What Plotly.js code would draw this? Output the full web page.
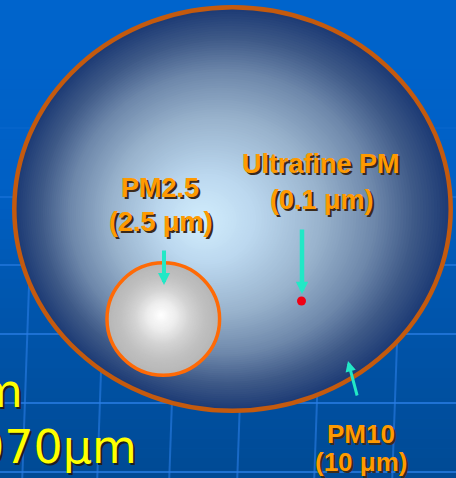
<!DOCTYPE html>
<html><head><meta charset="utf-8">
<script src="https://cdn.plot.ly/plotly-3.0.1.min.js"></script>
<style>html,body{margin:0;padding:0;background:#0060C6;overflow:hidden}</style>
</head><body><div id="chart" style="width:456px;height:478px"></div>
<script>
// particle classes shown in the diagram
const particleNames = ['PM10', 'PM2.5', 'Ultrafine PM'];
const particleSizes = ['10 μm', '2.5 μm', '0.1 μm'];
// comparison text at the left edge (cropped in the original slide)
const sideLines = ['m', '070μm'];

// ---------- layout / style (not data) ----------
const W = 456, H = 478;
const big = {cx: 232.5, cy: 209, rx: 218.2, ry: 201.8, fx: 200, fy: 222, line: '#C45A0E', lw: 4.5};
const small = {cx: 163.3, cy: 319, r: 56.3, fx: 161, fy: 315, line: '#FF6A06', lw: 3.5};
const bigStops = [[0,'#D2EEFD'],[0.22,'#BCD8EF'],[0.49,'#98B2CC'],[0.7,'#6E88AB'],[0.86,'#3E5987'],[1,'#1C3A74']];
const smallStops = [[0,'#FFFFFF'],[0.25,'#EDEDED'],[0.5,'#D2D2D2'],[0.75,'#C0C0C0'],[1,'#B6B6B6']];
const bgStops = [[0,'#0064CC'],[0.38,'#0060C5'],[0.63,'#0056AE'],[1,'#004A94']];

function hex2rgb(h){return [parseInt(h.slice(1,3),16),parseInt(h.slice(3,5),16),parseInt(h.slice(5,7),16)];}
function interp(stops, t){
  for (let i=1;i<stops.length;i++){
    if (t <= stops[i][0]){
      const a=stops[i-1], b=stops[i];
      const f=(t-a[0])/(b[0]-a[0]);
      const ca=hex2rgb(a[1]), cb=hex2rgb(b[1]);
      return 'rgb('+ca.map((v,k)=>Math.round(v+(cb[k]-v)*f)).join(',')+')';
    }
  }
  return stops[stops.length-1][1];
}

const shapes = [];
// background vertical gradient
const NB = 48;
for (let i=0;i<NB;i++){
  const y0 = H*i/NB, y1 = H*(i+1)/NB + 0.6;
  shapes.push({type:'rect', layer:'below', xref:'x', yref:'y', x0:-2, x1:W+2, y0:y0, y1:y1,
    fillcolor: interp(bgStops,(i+0.5)/NB), line:{width:0}});
}
// faint perspective grid
const gridY = [128, 197, 265, 334, 403, 472];
const gridYOp = [0.12, 0.4, 0.6, 0.7, 0.75, 0.75];
gridY.forEach((y,i)=>shapes.push({type:'line', layer:'below', x0:-2, x1:W+2, y0:y, y1:y,
  line:{color:'#2A7EE6', width:2}, opacity:gridYOp[i]}));
const gridX = [25, 100, 172, 240, 317, 395];
gridX.forEach(x=>shapes.push({type:'line', layer:'below', x0:x-0.035*(180-400), x1:x-0.035*(H-400), y0:180, y1:H,
  line:{color:'#2A7EE6', width:2}, opacity:0.6}));

// big ellipse with off-centre radial gradient
const NL = 90;
for (let i=NL;i>=1;i--){
  const t = i/NL;
  const cx = big.fx + t*(big.cx-big.fx), cy = big.fy + t*(big.cy-big.fy);
  const rx = t*big.rx + 0.5, ry = t*big.ry + 0.5;
  shapes.push({type:'circle', layer:'below', x0:cx-rx, x1:cx+rx, y0:cy-ry, y1:cy+ry,
    fillcolor: interp(bigStops,t), line:{width:0}});
}
shapes.push({type:'circle', layer:'below', x0:big.cx-big.rx, x1:big.cx+big.rx, y0:big.cy-big.ry, y1:big.cy+big.ry,
  line:{color:big.line, width:big.lw}});
// small sphere
const NS = 50;
for (let i=NS;i>=1;i--){
  const t = i/NS;
  const cx = small.fx + t*(small.cx-small.fx), cy = small.fy + t*(small.cy-small.fy);
  const r = t*small.r + 0.5;
  shapes.push({type:'circle', layer:'below', x0:cx-r, x1:cx+r, y0:cy-r, y1:cy+r,
    fillcolor: interp(smallStops,t), line:{width:0}});
}
shapes.push({type:'circle', layer:'below', x0:small.cx-small.r, x1:small.cx+small.r, y0:small.cy-small.r, y1:small.cy+small.r,
  line:{color:small.line, width:small.lw}});

// labels
const orange = '#FF9A00';
const shadowO = '2px 2px 0px #3A2A1C';
function label(txt, x, y, size){
  return {text:txt, x:x, y:y, xref:'x', yref:'y', showarrow:false, xanchor:'center', yanchor:'middle',
    font:{family:'Liberation Sans, Arial, sans-serif', size:size, color:orange, weight:'bold', shadow:shadowO}};
}
const labelPos = [ // [x, y line1, y line2, size]
  [360.5, 434, 462, 26],
  [160, 187.5, 221.5, 27],
  [320.5, 163.5, 199.5, 27]
];
const annotations = [];
particleNames.forEach((n,i)=>{
  const p = labelPos[i];
  annotations.push(label(n, p[0], p[1], p[3]));
  annotations.push(label('(' + particleSizes[i] + ')', p[0]+1, p[2], p[3]));
});
// yellow side text
const sidePos = [[25, 391], [139, 447]];
sideLines.forEach((s,i)=>annotations.push({text:s, x:sidePos[i][0], y:sidePos[i][1], xref:'x', yref:'y',
  showarrow:false, xanchor:'right', yanchor:'middle',
  font:{family:'DejaVu Sans, Verdana, sans-serif', size:46, color:'#FFFF00', shadow:'2px 2px 0px #1E1E1E'}}));
// arrows (tail -> tip)
const arrowColor = '#22E8C6';
const arrows = [ // [tailX, tailY, tipX, tipY, width, size]
  [164, 249, 164, 285, 4, 0.6],
  [302, 228, 302, 294, 4.5, 0.55],
  [357.5, 397, 348, 361, 3, 0.7]
];
arrows.forEach(a=>annotations.push({text:'', x:a[2], y:a[3], ax:a[0], ay:a[1], xref:'x', yref:'y', axref:'x', ayref:'y',
  showarrow:true, arrowhead:2, arrowwidth:a[4], arrowsize:a[5], arrowcolor:arrowColor, standoff:0, startstandoff:0}));

// ultrafine particle dot
const dot = {x:[301.5], y:[301]};
const traces = [{type:'scatter', mode:'markers', x:dot.x, y:dot.y, hoverinfo:'skip',
  marker:{size:9, color:'#F00014', line:{width:0}}, cliponaxis:false}];

const layout = {
  width:W, height:H, margin:{l:0,r:0,t:0,b:0,pad:0},
  paper_bgcolor:'#0060C6', plot_bgcolor:'rgba(0,0,0,0)', showlegend:false,
  xaxis:{range:[0,W], visible:false, fixedrange:true},
  yaxis:{range:[H,0], visible:false, fixedrange:true},
  shapes:shapes, annotations:annotations
};
Plotly.newPlot('chart', traces, layout, {displayModeBar:false, staticPlot:true});
</script></body></html>
